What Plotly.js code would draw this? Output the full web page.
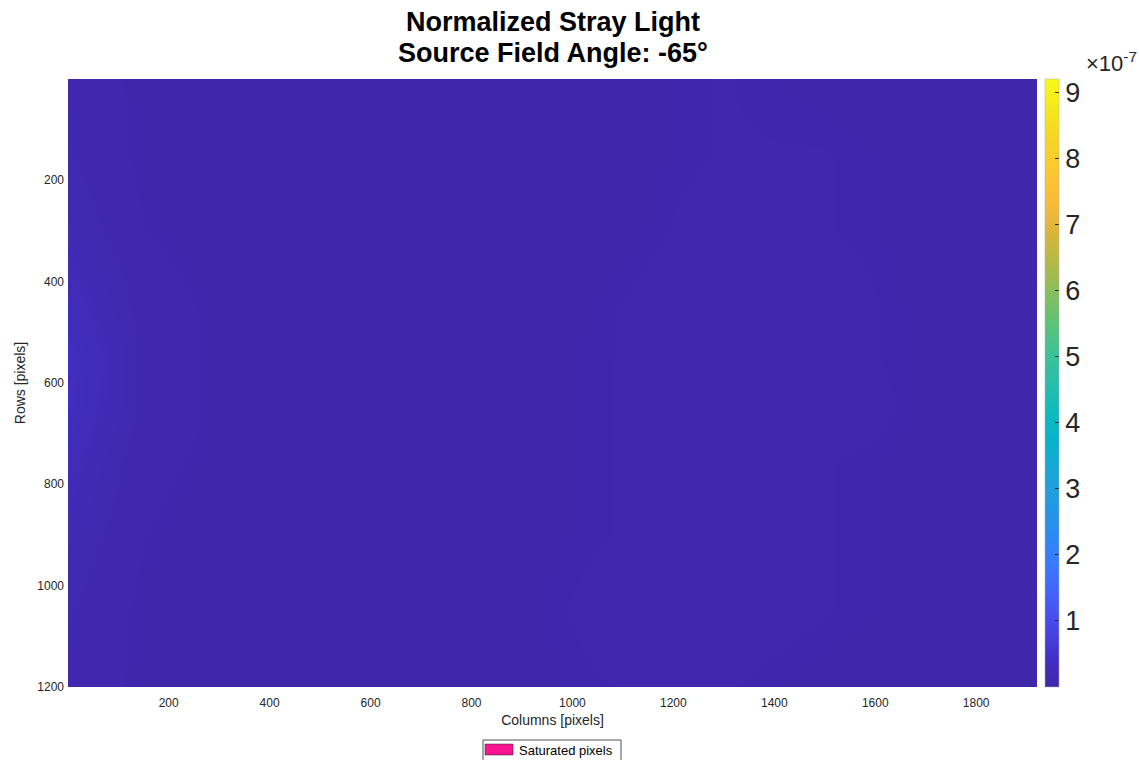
<!DOCTYPE html>
<html>
<head>
<meta charset="utf-8">
<script src="https://cdn.plot.ly/plotly-3.0.1.min.js"></script>
<style>html,body{margin:0;padding:0;background:#fff;}#chart{width:1139px;height:760px;}</style>
</head>
<body>
<div id="chart"></div>
<script>
// Column / row sample positions (pixels) of the stray light map
const colPos = [1, 60, 150, 300, 600, 900, 1100, 1300, 1500, 1700, 1920];
const rowPos = [1, 150, 300, 450, 550, 650, 750, 900, 1050, 1200];
// Normalized stray light, in units of 1e-7, one row per rowPos entry
const row0001 = [0.10, 0.08, 0.06, 0.05, 0.05, 0.05, 0.06, 0.07, 0.06, 0.05, 0.05];
const row0150 = [0.12, 0.09, 0.06, 0.05, 0.05, 0.05, 0.06, 0.07, 0.07, 0.06, 0.05];
const row0300 = [0.16, 0.12, 0.07, 0.05, 0.05, 0.05, 0.06, 0.08, 0.07, 0.06, 0.05];
const row0450 = [0.26, 0.18, 0.09, 0.06, 0.05, 0.05, 0.07, 0.09, 0.08, 0.06, 0.05];
const row0550 = [0.34, 0.22, 0.10, 0.06, 0.05, 0.06, 0.07, 0.09, 0.08, 0.06, 0.05];
const row0650 = [0.32, 0.21, 0.10, 0.06, 0.05, 0.06, 0.07, 0.09, 0.09, 0.06, 0.05];
const row0750 = [0.24, 0.16, 0.08, 0.06, 0.05, 0.06, 0.07, 0.08, 0.07, 0.06, 0.05];
const row0900 = [0.16, 0.12, 0.07, 0.05, 0.05, 0.06, 0.07, 0.08, 0.07, 0.06, 0.05];
const row1050 = [0.12, 0.09, 0.06, 0.05, 0.05, 0.06, 0.08, 0.08, 0.07, 0.06, 0.05];
const row1200 = [0.10, 0.08, 0.06, 0.05, 0.05, 0.06, 0.07, 0.07, 0.06, 0.05, 0.05];
const scaleExp = 1e-7;
const colorMax = 9.2; // top of colour bar, in units of 1e-7
const cbTicks = [1, 2, 3, 4, 5, 6, 7, 8, 9];
const xTicks = [200, 400, 600, 800, 1000, 1200, 1400, 1600, 1800];
const yTicks = [200, 400, 600, 800, 1000, 1200];
const titleLines = ['Normalized Stray Light', 'Source Field Angle: -65°'];

const rows = [row0001, row0150, row0300, row0450, row0550, row0650, row0750, row0900, row1050, row1200];
const z = rows.map(r => r.map(v => v * scaleExp));

const parula = [
  [0.00, '#3e26a8'], [0.05, '#4430c8'], [0.10, '#4747e8'], [0.15, '#4560f8'],
  [0.20, '#3a78fc'], [0.25, '#2c8af3'], [0.30, '#2298e4'], [0.35, '#1aa5d8'],
  [0.40, '#07b1cc'], [0.45, '#0dbabd'], [0.50, '#2abeab'], [0.55, '#3cc296'],
  [0.60, '#5fc278'], [0.65, '#8abe5c'], [0.70, '#b6b947'], [0.75, '#dcb53a'],
  [0.80, '#f9bc3a'], [0.85, '#fdc832'], [0.90, '#f5d624'], [0.95, '#f4e71c'],
  [1.00, '#f9fb15']
];

const L = 68, R = 1037, T = 79, B = 687;
const W = R - L, H = B - T;
const px = x => (x - L) / W;
const py = y => (B - y) / H;
const FONT = 'Liberation Sans, Arial, sans-serif';

const trace = {
  type: 'heatmap',
  x: colPos, y: rowPos, z: z,
  zsmooth: 'best',
  colorscale: parula,
  zmin: 0, zmax: colorMax * scaleExp,
  showscale: true,
  hoverinfo: 'skip',
  colorbar: {
    x: px(1045), xanchor: 'left', xref: 'paper',
    y: 0.5, yanchor: 'middle', len: 1, lenmode: 'fraction',
    thickness: 14, thicknessmode: 'pixels',
    xpad: 0, ypad: 0,
    outlinewidth: 0.5, outlinecolor: '#b0b0b0',
    tickvals: cbTicks.map(v => v * scaleExp),
    ticktext: cbTicks.map(String),
    ticks: 'inside', ticklen: 4, tickcolor: '#262626',
    tickfont: {family: FONT, size: 27, color: '#262626'}
  }
};

const layout = {
  width: 1139, height: 760,
  margin: {l: L, r: 1139 - R, t: T, b: 760 - B, pad: 0},
  paper_bgcolor: '#ffffff', plot_bgcolor: '#ffffff',
  font: {family: FONT, color: '#262626'},
  xaxis: {
    range: [0.5, 1920.5], tickvals: xTicks, ticks: '', showgrid: false, zeroline: false,
    showline: false, ticklabelstandoff: 7,
    tickfont: {size: 12, color: '#262626'},
    title: {text: 'Columns [pixels]', font: {size: 14, color: '#262626'}, standoff: 6}
  },
  yaxis: {
    range: [1200.5, 0.5], tickvals: yTicks, ticks: '', showgrid: false, zeroline: false,
    showline: false, ticklabelstandoff: 3,
    tickfont: {size: 12, color: '#262626'},
    title: {text: 'Rows [pixels]', font: {size: 14, color: '#262626'}, standoff: 8}
  },
  shapes: [
    {type: 'rect', xref: 'paper', yref: 'paper', x0: px(483), x1: px(621), y0: py(761), y1: py(740),
     line: {color: '#262626', width: 0.8}, fillcolor: '#ffffff'},
    {type: 'rect', xref: 'paper', yref: 'paper', x0: px(485), x1: px(513), y0: py(755), y1: py(744),
     line: {color: '#262626', width: 0.5}, fillcolor: '#fa1490'}
  ],
  annotations: [
    {text: '<b>' + titleLines[0] + '</b>', xref: 'paper', yref: 'paper', x: px(553), y: py(22),
     xanchor: 'center', yanchor: 'middle', showarrow: false,
     font: {family: FONT, size: 27, color: '#000000'}},
    {text: '<b>' + titleLines[1] + '</b>', xref: 'paper', yref: 'paper', x: px(553), y: py(53),
     xanchor: 'center', yanchor: 'middle', showarrow: false,
     font: {family: FONT, size: 27, color: '#000000'}},
    {text: 'Saturated pixels', xref: 'paper', yref: 'paper', x: px(517), y: py(750),
     xanchor: 'left', yanchor: 'middle', showarrow: false,
     font: {size: 13, color: '#000000'}},
    {text: '×10<sup>-7</sup>', xref: 'paper', yref: 'paper', x: px(1084), y: py(62),
     xanchor: 'left', yanchor: 'middle', showarrow: false,
     font: {size: 22, color: '#262626'}}
  ]
};

Plotly.newPlot('chart', [trace], layout, {displayModeBar: false, staticPlot: true});
</script>
</body>
</html>
